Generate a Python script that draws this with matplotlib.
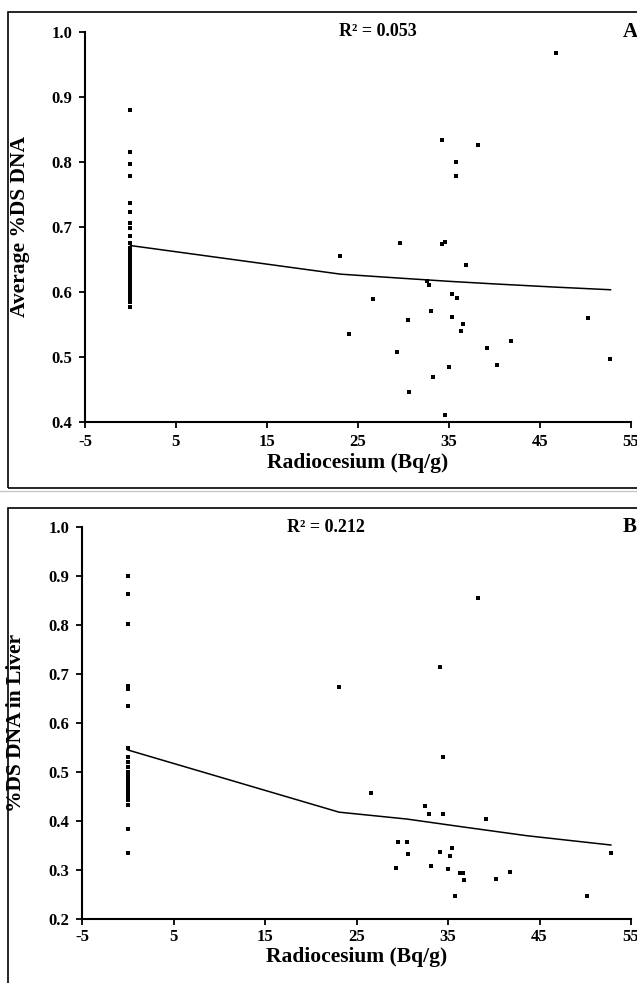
import matplotlib
matplotlib.use("Agg")
from matplotlib import pyplot as plt
from matplotlib.patches import Rectangle
from matplotlib.lines import Line2D

plt.rcParams['font.family'] = ['Liberation Serif', 'DejaVu Serif']
plt.rcParams['font.weight'] = 'bold'
plt.rcParams['axes.unicode_minus'] = False

# panel A: average %DS DNA vs radiocesium
a_x = [0]*26 + [46.8, 34.3, 38.2, 35.8, 35.8, 29.6, 34.3, 34.6, 23.1, 36.9,
                32.6, 32.8, 26.7, 35.4, 35.9, 33.1, 30.5, 35.4, 36.6, 36.4,
                24.0, 29.3, 35.0, 33.3, 30.6, 34.6, 50.3, 52.8, 41.9, 39.2, 40.3]
a_y = [0.879, 0.815, 0.796, 0.778, 0.737, 0.723, 0.706, 0.698, 0.685, 0.675,
       0.668, 0.662, 0.656, 0.651, 0.646, 0.640, 0.634, 0.627, 0.621, 0.615,
       0.609, 0.602, 0.596, 0.590, 0.584, 0.577,
       0.968, 0.834, 0.826, 0.799, 0.778, 0.675, 0.674, 0.677, 0.655, 0.641,
       0.616, 0.610, 0.589, 0.597, 0.590, 0.571, 0.556, 0.561, 0.550, 0.540,
       0.535, 0.507, 0.484, 0.469, 0.446, 0.411, 0.559, 0.496, 0.524, 0.513, 0.487]
a_fit_x = [0, 23.1, 29.5, 35, 40, 46.8, 52.8]
a_fit_y = [0.671, 0.627, 0.621, 0.616, 0.612, 0.607, 0.603]

# panel B: %DS DNA in liver vs radiocesium
b_x = [0]*23 + [23.1, 34.1, 34.5, 38.3, 26.6, 32.5, 32.9, 34.5, 39.2, 52.8,
                29.5, 30.5, 30.6, 29.3, 33.1, 34.1, 35.4, 35.2, 35.0, 36.3,
                36.6, 36.8, 35.8, 40.2, 41.8, 50.2]
b_y = [0.900, 0.864, 0.802, 0.675, 0.670, 0.635, 0.549, 0.530, 0.520, 0.510,
       0.500, 0.492, 0.486, 0.480, 0.475, 0.470, 0.465, 0.460, 0.452, 0.443,
       0.432, 0.383, 0.335,
       0.673, 0.715, 0.531, 0.856, 0.457, 0.431, 0.414, 0.414, 0.404, 0.335,
       0.357, 0.357, 0.333, 0.305, 0.309, 0.337, 0.344, 0.329, 0.303, 0.293,
       0.293, 0.279, 0.247, 0.282, 0.296, 0.247]
b_fit_x = [0, 23.1, 30.5, 36.2, 43.6, 52.8]
b_fit_y = [0.545, 0.418, 0.404, 0.389, 0.370, 0.351]

x_ticks = [-5, 5, 15, 25, 35, 45, 55]

W, H = 637, 983
fig = plt.figure(figsize=(W/100, H/100), dpi=100)


def px(x0, y0, x1, y1):
    return [x0/W, 1 - y1/H, (x1 - x0)/W, (y1 - y0)/H]


# panel frames and separator
fig.patches.append(Rectangle((8/W, 1 - 488/H), 2, (488 - 11.7)/H, transform=fig.transFigure,
                             fill=False, lw=1.2, ec='black'))
fig.patches.append(Rectangle((8/W, -0.1), 2, 0.1 + 1 - 508/H, transform=fig.transFigure,
                             fill=False, lw=1.2, ec='black'))
fig.lines.append(Line2D([0, 1], [1 - 491/H, 1 - 491/H], transform=fig.transFigure,
                        color='#c8c8c8', lw=1))

panels = [
    dict(rect=px(85, 31.7, 630.5, 421.7), x=a_x, y=a_y, fx=a_fit_x, fy=a_fit_y,
         ylim=(0.4, 1.0), yticks=[0.4, 0.5, 0.6, 0.7, 0.8, 0.9, 1.0],
         ylabel='Average %DS DNA', r2='R² = 0.053', r2x=27.2, tag='A',
         xlab_y=-0.107, pad=5),
    dict(rect=px(82, 527, 631, 919), x=b_x, y=b_y, fx=b_fit_x, fy=b_fit_y,
         ylim=(0.2, 1.0), yticks=[0.2, 0.3, 0.4, 0.5, 0.6, 0.7, 0.8, 0.9, 1.0],
         ylabel='%DS DNA in Liver', r2='R² = 0.212', r2x=21.7, tag='B',
         xlab_y=-0.097, pad=3),
]

for p in panels:
    ax = fig.add_axes(p['rect'])
    ax.scatter(p['x'], p['y'], marker='s', s=9, color='black', linewidths=0, zorder=3, clip_on=False)
    ax.plot(p['fx'], p['fy'], color='black', lw=1.1)
    ax.set_xlim(-5, 55)
    ax.set_ylim(*p['ylim'])
    ax.set_xticks(x_ticks)
    ax.set_yticks(p['yticks'])
    ax.set_yticklabels(['%.1f' % v for v in p['yticks']])
    for s in ['top', 'right']:
        ax.spines[s].set_visible(False)
    for s in ['left', 'bottom']:
        ax.spines[s].set_linewidth(1.5)
    ax.tick_params(direction='out', length=4, width=1.3, labelsize=12)
    ax.tick_params(axis='x', pad=p['pad'])
    ax.tick_params(axis='y', pad=5)
    for lab in ax.get_xticklabels() + ax.get_yticklabels():
        lab.set_fontweight('bold')
    ax.set_xlabel('Radiocesium (Bq/g)', fontsize=15.5, fontweight='bold', va='center')
    ax.xaxis.set_label_coords(0.5, p['xlab_y'])
    ax.set_ylabel(p['ylabel'], fontsize=15.5, fontweight='bold', va='center')
    ax.yaxis.set_label_coords(-0.12, 0.5)
    ax.text(p['r2x'], p['ylim'][1], p['r2'], ha='center', va='center', fontsize=13, fontweight='bold')
    ax.text(54.1, p['ylim'][1], p['tag'], ha='left', va='center', fontsize=15, fontweight='bold',
            clip_on=False)

fig.savefig('out.png', dpi=100)
